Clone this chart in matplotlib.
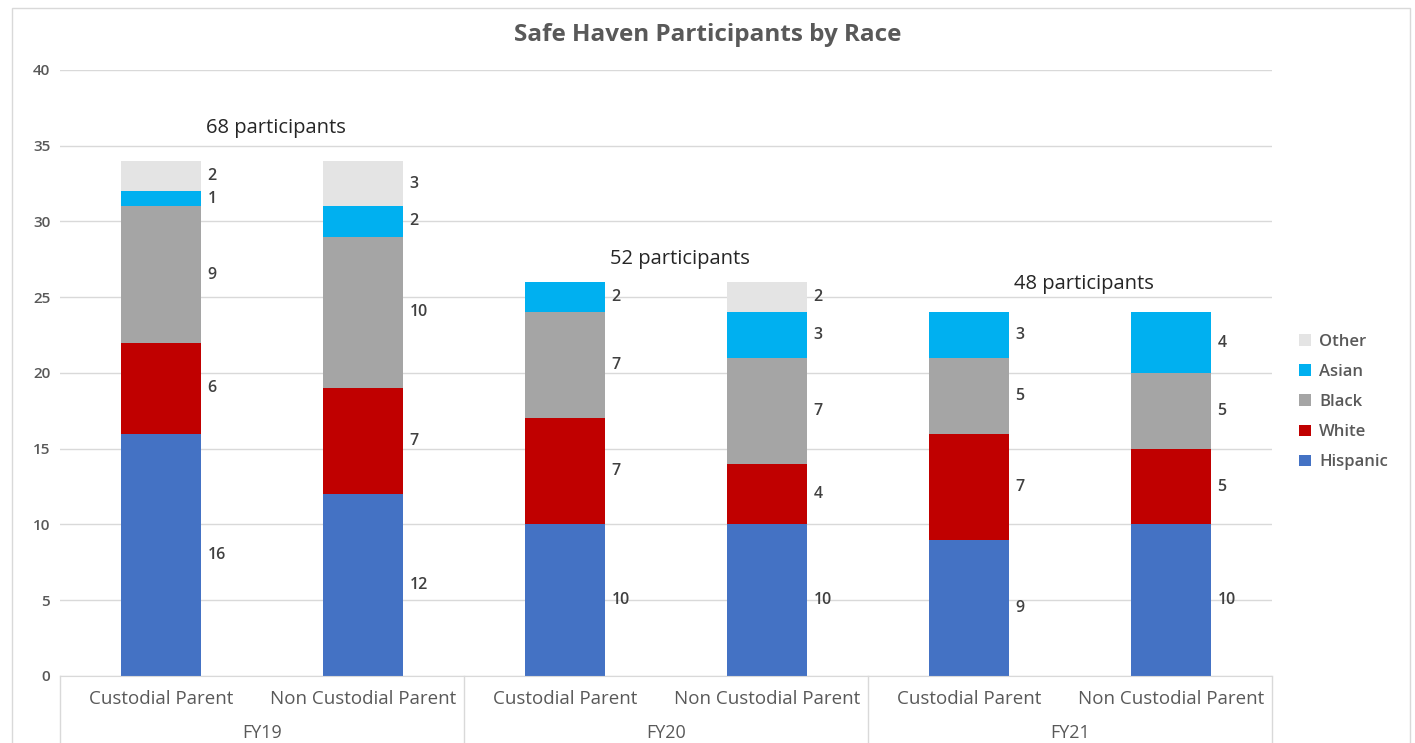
import matplotlib.pyplot as plt
import numpy as np
from matplotlib.patches import Rectangle

plt.rcParams['font.family'] = ['Open Sans', 'DejaVu Sans']

years = ['FY19', 'FY20', 'FY21']
parents = ['Custodial Parent', 'Non Custodial Parent'] * 3
totals = ['68 participants', '52 participants', '48 participants']

races = ['Hispanic', 'White', 'Black', 'Asian', 'Other']
hispanic = [16, 12, 10, 10, 9, 10]
white = [6, 7, 7, 4, 7, 5]
black = [9, 10, 7, 7, 5, 5]
asian = [1, 2, 2, 3, 3, 4]
other = [2, 3, 0, 2, 0, 0]

colors = ['#4472C4', '#C00000', '#A5A5A5', '#00B0F0', '#E4E4E4']
txt = '#595959'

fig = plt.figure(figsize=(14.15, 7.43), dpi=100)
fig.patches.append(Rectangle((12 / 1415, -0.01), 1398 / 1415, 0.999, transform=fig.transFigure,
                             fill=False, edgecolor='#d9d9d9', lw=1))
ax = fig.add_axes([0.0424, 0.0902, 0.8565, 0.8156])

x = np.arange(len(parents))
width = 0.4
bottom = np.zeros(len(parents))
series = [hispanic, white, black, asian, other]
handles = []
for name, vals, c in zip(races, series, colors):
    vals = np.array(vals)
    b = ax.bar(x, vals, width, bottom=bottom, color=c, label=name, zorder=2)
    handles.append(b)
    for xi, v, b0 in zip(x, vals, bottom):
        if v > 0:
            ax.text(xi + width / 2 + 0.03, b0 + v / 2, str(v), ha='left', va='center',
                    fontsize=11.5, fontweight='semibold', color='#404040')
    bottom += vals

# total participants per fiscal year
total_y = [36.2, 27.5, 25.9]
for i, (t, ty) in enumerate(zip(totals, total_y)):
    ax.text(2 * i + 0.57, ty, t, ha='center', va='center', fontsize=14.5, color='#262626')

ax.set_xlim(-0.5, 5.5)
ax.set_ylim(0, 40)
ax.set_yticks(range(0, 41, 5))
ax.yaxis.grid(True, color='#d9d9d9', lw=1, zorder=0)
ax.set_axisbelow(True)
ax.tick_params(axis='y', length=0, labelsize=11, labelcolor=txt, pad=15)
for lbl in ax.get_yticklabels():
    lbl.set_fontweight('semibold')
ax.set_xticks([])
for s in ['top', 'right', 'left']:
    ax.spines[s].set_visible(False)
ax.spines['bottom'].set_color('#d9d9d9')
ax.tick_params(axis='y', pad=7)

# two-level category axis
for xi, p in zip(x, parents):
    ax.text(xi, -1.5, p, ha='center', va='center', fontsize=13.5, color=txt, clip_on=False)
for i, y in enumerate(years):
    ax.text(2 * i + 0.5, -3.75, y, ha='center', va='center', fontsize=13, color=txt,
            clip_on=False)
for xs in [-0.5, 1.5, 3.5, 5.5]:
    ax.plot([xs, xs], [0, -4.5], color='#d9d9d9', lw=1, clip_on=False)

fig.suptitle('Safe Haven Participants by Race', x=0.5, y=0.953, va='center',
             fontsize=17.5, fontweight='bold', color=txt)

leg = ax.legend(handles[::-1], races[::-1], loc='center left', bbox_to_anchor=(1.01, 0.452),
                frameon=False, fontsize=12, handlelength=0.7, handleheight=0.7,
                labelspacing=0.85, handletextpad=0.5)
for t in leg.get_texts():
    t.set_color(txt)
    t.set_fontweight('semibold')

fig.savefig('out.png', dpi=100)
